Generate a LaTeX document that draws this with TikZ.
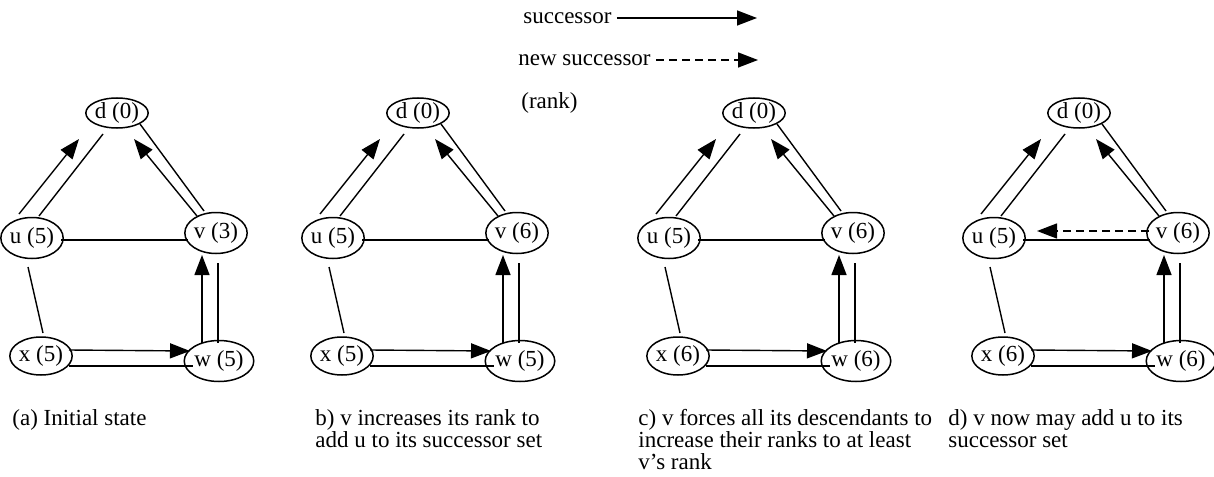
\documentclass[tikz,border=0pt]{standalone}
\usepackage{fontspec}
\setmainfont{Liberation Serif}
\usetikzlibrary{shapes.geometric,arrows.meta,calc}

\newcommand{\figfont}{\fontsize{11.5pt}{11pt}\selectfont}

\begin{document}
\begin{tikzpicture}[x=0.5pt,y=-0.5pt,
  every node/.style={font=\figfont},
  vert/.style={draw,ellipse,line width=0.75pt,inner sep=0pt,minimum width=28pt,minimum height=20.5pt},
  link/.style={line width=0.7pt},
  succ/.style={line width=0.7pt,-{Triangle[length=10pt,width=7.5pt]}},
  newsucc/.style={succ,dash pattern=on 4pt off 2.5pt},
  captext/.style={anchor=north west,align=left,inner sep=0pt}]

 \useasboundingbox (0,0) rectangle (1214,476);

 % legend
 \node[anchor=west,inner sep=0pt] (lsucc) at (523,18) {successor};
 \node[anchor=west,inner sep=0pt] (lnew) at (518,60) {new successor};
 \node[anchor=west,inner sep=0pt] (lrank) at (521,103) {(rank)};
 \coordinate (lsuccend) at (757,18);
 \coordinate (lnewend) at (758,60);
 \draw[succ] ([xshift=2.5pt]lsucc.east) -- (lsuccend);
 \draw[newsucc] ([xshift=2.5pt]lnew.east) -- (lnewend);

 % the four states
 \foreach \p/\cx/\rv/\rx/\rw in {a/117/3/5/5,b/418/6/5/5,c/754/6/6/6,d/1079/6/6/6}{
  \node[vert,minimum width=27pt,minimum height=15pt] (d\p) at (\cx,113) {d (0)};
  \node[vert] (u\p) at (\cx-85,238) {u (5)};
  \node[vert] (v\p) at (\cx+99,233) {v (\rv)};
  \node[vert,minimum height=19pt] (x\p) at (\cx-76,356) {x (\rx)};
  \node[vert] (w\p) at (\cx+102,361) {w (\rw)};
  % links
  \draw[link] ($(u\p)+(7,-22)$) -- ($(d\p)+(-14,21)$);
  \draw[link] ($(v\p)+(-12,-22)$) -- ($(d\p)+(23,11)$);
  \draw[link] ($(u\p)+(29,2)$) -- ($(v\p)+(-28,7)$);
  \draw[link] ($(u\p)+(-4,29)$) -- ($(x\p)+(2,-23)$);
  \draw[link] ($(x\p)+(28,10)$) -- ($(w\p)+(-26,5)$);
  \draw[link] ($(v\p)+(2,30)$) -- ($(w\p)+(-1,-18)$);
  % successors
  \draw[succ] ($(u\p)+(-13,-24)$) -- ($(d\p)+(-38,26)$);
  \draw[succ] ($(v\p)+(-19,-17)$) -- ($(d\p)+(17,26)$);
  \draw[succ] ($(x\p)+(28,-6)$) -- ($(w\p)+(-29,-10)$);
  \draw[succ] ($(w\p)+(-17,-18)$) -- ($(v\p)+(-14,22)$);
 }
 \draw[newsucc] ($(vd)+(-29,-2)$) -- ($(ud)+(43,-7)$); % new successor of v

 % captions
 \node[captext] (capa) at (12,409) {(a) Initial state};
 \node[captext] (capb) at (315,409) {b) v increases its rank to\\add u to its successor set};
 \node[captext] (capc) at (638,409) {c) v forces all its descendants to\\increase their ranks to at least\\v's rank};
 \node[captext] (capd) at (948,409) {d) v now may add u to its\\successor set};

\end{tikzpicture}
\end{document}
